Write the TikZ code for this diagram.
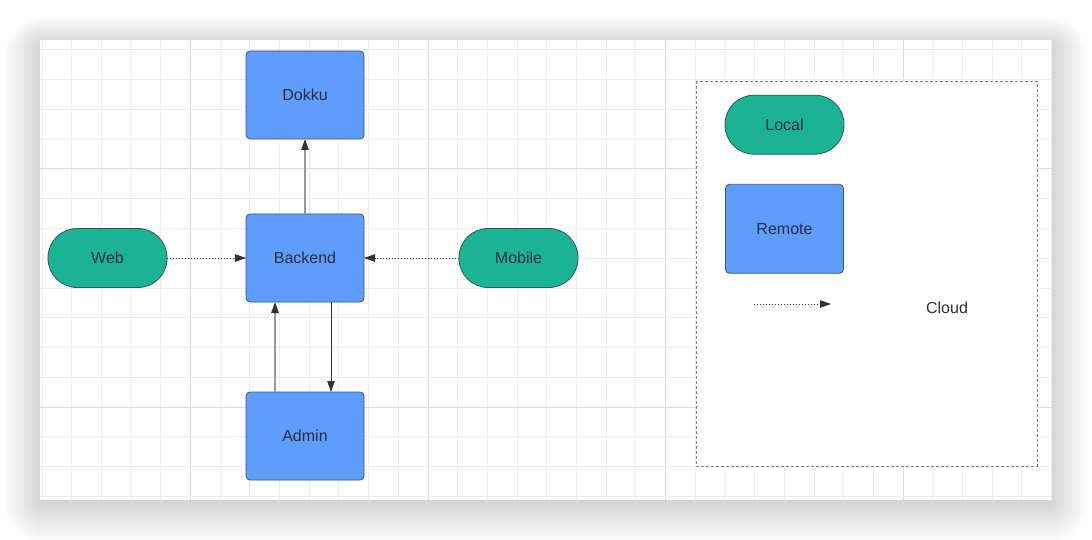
\documentclass[tikz,border=0pt]{standalone}
\usepackage{fontspec}
\setmainfont{Liberation Sans}
\usepackage{tikz}
\usetikzlibrary{arrows.meta,positioning}

\definecolor{remotefill}{HTML}{5E9DFC}
\definecolor{remoteedge}{HTML}{3E5678}
\definecolor{localfill}{HTML}{1AB394}
\definecolor{localedge}{HTML}{2E5A50}
\definecolor{labelink}{HTML}{283040}
\definecolor{gridlight}{HTML}{EDEDED}
\definecolor{griddark}{HTML}{DCDCDC}
\definecolor{tipdark}{HTML}{333333}
\definecolor{linegray}{HTML}{9A9A9A}

\begin{document}
\begin{tikzpicture}[x=1pt,y=-1pt,semithick,
    >={Triangle[length=11pt,width=7.5pt]},
    font=\fontsize{16}{19}\selectfont]

  \tikzstyle{remote}=[rectangle,rounded corners=4pt,draw=remoteedge,fill=remotefill,
                      text=labelink,minimum width=118pt,minimum height=88pt,
                      inner sep=0pt,outer sep=0pt,line width=0.8pt]
  \tikzstyle{local}=[rectangle,rounded corners=29pt,draw=localedge,fill=localfill,
                     text=labelink,minimum width=119pt,minimum height=59pt,
                     inner sep=0pt,outer sep=0pt,line width=0.8pt]
  \tikzstyle{grayline}=[draw=linegray,line width=1.2pt,-{Triangle[length=11pt,width=7.5pt,color=tipdark]}]
  \tikzstyle{darkline}=[draw=tipdark,line width=0.8pt,->]
  \tikzstyle{dotline}=[draw=tipdark,line width=0.8pt,dash pattern=on 1.2pt off 1.8pt,->]

  \useasboundingbox (0,0) rectangle (1092,540);
  \fill[white] (0,0) rectangle (1092,540);
  \foreach \i in {1,...,40}
    \fill[black,opacity=0.0022,rounded corners=\i pt]
      (40-0.9*\i,40-0.7*\i+4) rectangle (1052+0.9*\i,500+\i+4);
  \fill[white] (40,40) rectangle (1052,500);

  \foreach \k in {0,...,34} {
    \pgfmathsetmacro\gx{42.06+\k*29.69}
    \pgfmathtruncatemacro\md{mod(\k+3,8)}
    \ifnum\md=0 \draw[griddark,line width=1pt] (\gx,40) -- (\gx,500);
    \else \draw[gridlight,line width=1pt] (\gx,40) -- (\gx,500); \fi
  }
  \foreach \k in {0,...,15} {
    \pgfmathsetmacro\gy{50+\k*29.75}
    \pgfmathtruncatemacro\md{mod(\k+4,8)}
    \ifnum\md=0 \draw[griddark,line width=1pt] (40,\gy) -- (1052,\gy);
    \else \draw[gridlight,line width=1pt] (40,\gy) -- (1052,\gy); \fi
  }

  \node[remote]                  (BE) at (305,258) {Backend};
  \node[remote,above=75pt of BE] (DK)             {Dokku};
  \node[remote,below=90pt of BE] (AD)             {Admin};
  \node[local,left=79pt of BE]   (WB)             {Web};
  \node[local,right=95pt of BE]  (MB)             {Mobile};

  \draw[grayline] (BE) -- (DK);
  \draw[grayline] ([xshift=-30pt]AD.north) -- ([xshift=-30pt]BE.south);
  \draw[darkline] ([xshift=26pt]BE.south) -- ([xshift=26pt]AD.north);
  \draw[dotline]  (WB) -- (BE);
  \draw[dotline]  (MB) -- (BE);

  \draw[fill=white,draw=gray,line width=0.8pt,dash pattern=on 3pt off 2pt]
    (696,81) rectangle (1037,466);

  \node[local]  (LC) at (784.5,124.7) {Local};
  \node[remote,minimum height=89pt] (RM) at (784.5,228.8) {Remote};
  \coordinate (lgA) at (754,304);
  \coordinate (lgB) at (831,304);
  \draw[dotline] (lgA) -- (lgB);
  \node[text=labelink] (CL) at (947,308) {Cloud};
\end{tikzpicture}
\end{document}
